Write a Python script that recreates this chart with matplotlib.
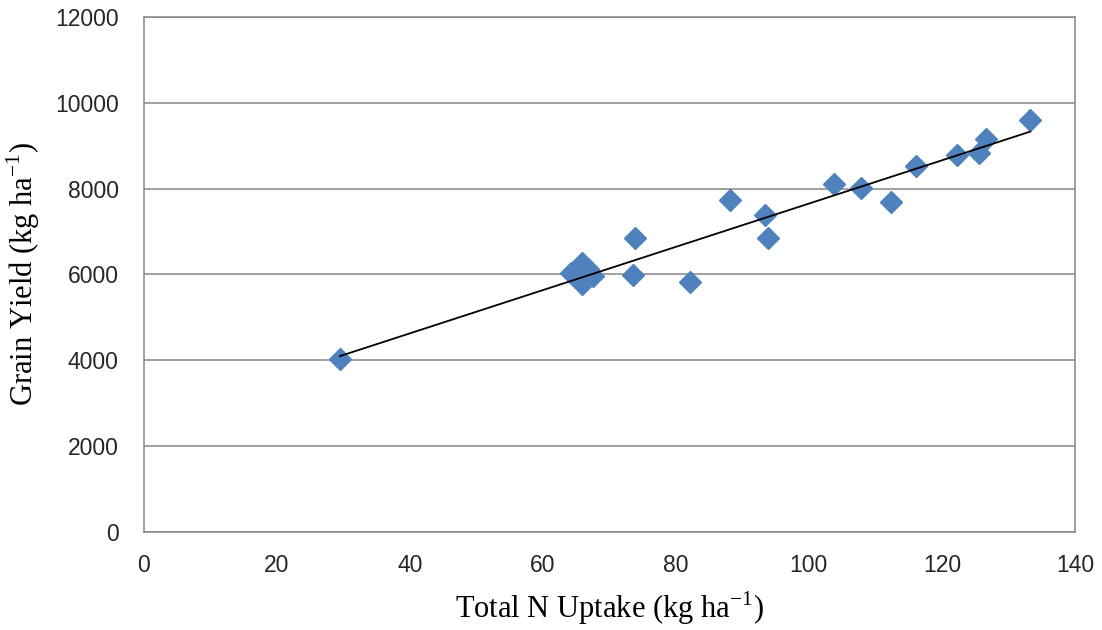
import numpy as np
import matplotlib.pyplot as plt

# total N uptake (kg/ha) and grain yield (kg/ha)
n_uptake = [29.5, 64.2, 65.9, 65.9, 66.8, 67.5, 73.5, 73.9, 82.1,
            88.2, 93.4, 93.8, 103.8, 107.8, 112.3, 116.1, 122.3, 125.6, 126.6, 133.3]
grain_yield = [4020, 6020, 6260, 5780, 6130, 5970, 5990, 6850, 5810,
               7740, 7390, 6850, 8100, 8010, 7690, 8520, 8790, 8820, 9160, 9600]

x_ticks = [0, 20, 40, 60, 80, 100, 120, 140]
y_ticks = [0, 2000, 4000, 6000, 8000, 10000, 12000]

plt.rcParams['mathtext.fontset'] = 'custom'
plt.rcParams['mathtext.rm'] = 'Liberation Serif'

fig = plt.figure(figsize=(11.02, 6.3), dpi=100)
ax = fig.add_axes([0.1304, 0.1563, 0.845, 0.8167])

ax.grid(axis='y', color='#868686', linewidth=1.1, zorder=0)
ax.set_axisbelow(True)

ax.plot(n_uptake, grain_yield, linestyle='none', marker='D', markersize=11.5,
        color='#4F81BD', zorder=3)

# linear trend line over the data range
slope, icpt = np.polyfit(n_uptake, grain_yield, 1)
xs = np.array([min(n_uptake), max(n_uptake)])
ax.plot(xs, slope * xs + icpt, color='black', linewidth=1.3, zorder=4)

ax.set_xlim(0, 140)
ax.set_ylim(0, 12000)
ax.set_xticks(x_ticks)
ax.set_yticks(y_ticks)
ax.tick_params(length=0, labelsize=16.5, labelcolor='#262626')
ax.tick_params(axis='x', pad=16)
ax.tick_params(axis='y', pad=18)
for lab in ax.get_xticklabels() + ax.get_yticklabels():
    lab.set_family('Liberation Sans')

for s in ax.spines.values():
    s.set_color('#868686')
    s.set_linewidth(1.1)

ax.set_xlabel(r'Total N Uptake (kg ha$^{\mathrm{-1}}$)', family='Liberation Serif',
              fontsize=22)
ax.set_ylabel(r'Grain Yield (kg ha$^{\mathrm{-1}}$)', family='Liberation Serif',
              fontsize=22)
ax.xaxis.set_label_coords(0.5, -0.113)
ax.yaxis.set_label_coords(-0.109, 0.5)

fig.savefig('out.png', dpi=100)
